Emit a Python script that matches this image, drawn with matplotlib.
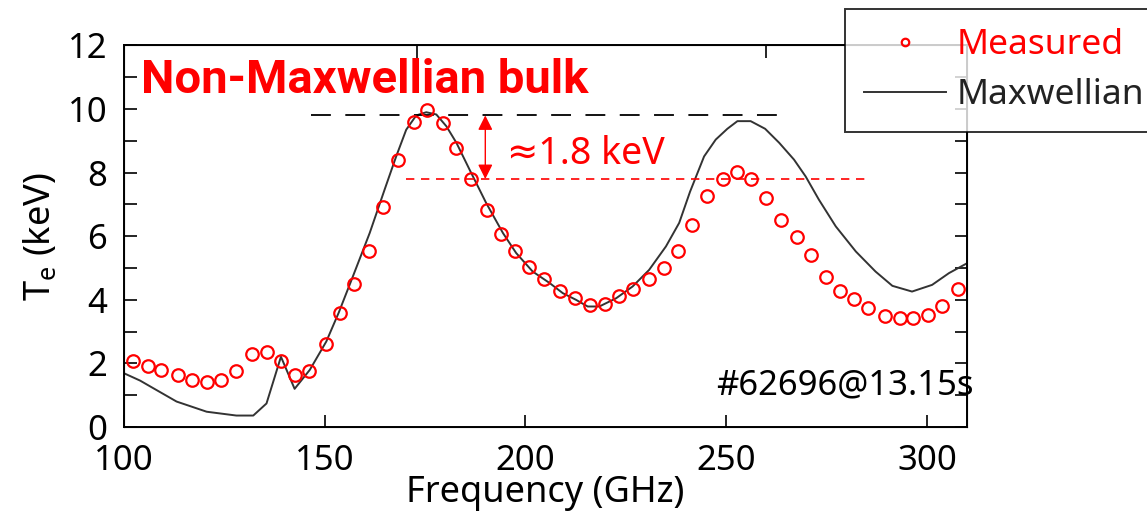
import matplotlib
matplotlib.use("Agg")
import matplotlib.pyplot as plt
from matplotlib.ticker import MultipleLocator

plt.rcParams['font.family'] = ['Noto Sans', 'DejaVu Sans']

# measured ECE temperature (red circles)
meas_f = [102.3, 105.9, 109.3, 113.5, 117.0, 120.6, 124.1, 127.8, 132.0, 135.5,
          139.1, 142.5, 146.1, 150.2, 153.9, 157.2, 161.0, 164.5, 168.2, 172.2,
          175.4, 179.4, 182.8, 186.5, 190.5, 194.0, 197.3, 201.0, 204.6, 208.5,
          212.4, 216.1, 219.7, 223.2, 226.9, 230.8, 234.4, 238.1, 241.5, 245.2,
          249.1, 252.8, 256.2, 260.0, 263.6, 267.7, 271.2, 274.8, 278.3, 281.8,
          285.3, 289.5, 293.2, 296.6, 300.2, 303.8, 307.8]
meas_te = [2.09, 1.93, 1.79, 1.63, 1.47, 1.40, 1.47, 1.77, 2.30, 2.37,
           2.08, 1.62, 1.77, 2.61, 3.59, 4.51, 5.53, 6.91, 8.41, 9.60,
           9.98, 9.57, 8.78, 7.80, 6.83, 6.07, 5.54, 5.02, 4.66, 4.28,
           4.05, 3.84, 3.87, 4.13, 4.34, 4.65, 5.00, 5.55, 6.36, 7.25,
           7.80, 8.01, 7.80, 7.20, 6.52, 5.99, 5.40, 4.71, 4.28, 4.03,
           3.74, 3.50, 3.42, 3.42, 3.51, 3.81, 4.34]

# synthetic Maxwellian spectrum (black line)
max_f = [100.0, 104.0, 107.3, 113.1, 120.6, 128.0, 132.2, 135.5, 139.1, 142.5,
         146.3, 150.4, 153.5, 157.0, 161.2, 164.9, 167.8, 170.3, 172.8, 175.3,
         177.8, 180.3, 182.8, 186.1, 190.2, 194.4, 197.7, 201.8, 206.0, 209.3,
         212.6, 215.5, 218.4, 222.6, 226.7, 230.8, 235.0, 238.3, 241.0, 244.5,
         247.4, 250.3, 252.8, 256.1, 259.7, 263.2, 266.9, 269.8, 273.1, 277.3,
         282.3, 287.2, 291.4, 296.3, 301.3, 305.5, 310.0]
max_te = [1.69, 1.46, 1.22, 0.80, 0.48, 0.36, 0.36, 0.74, 2.21, 1.20,
          1.80, 2.69, 3.60, 4.73, 6.10, 7.46, 8.51, 9.35, 9.80, 9.90,
          9.83, 9.46, 8.94, 8.09, 7.05, 6.10, 5.47, 4.89, 4.53, 4.21,
          4.00, 3.79, 3.79, 4.05, 4.42, 4.94, 5.68, 6.42, 7.40, 8.51,
          9.04, 9.38, 9.62, 9.62, 9.38, 8.94, 8.41, 7.88, 7.15, 6.31,
          5.52, 4.89, 4.44, 4.26, 4.47, 4.84, 5.15]

peak_max = 9.8
peak_meas = 7.8
top_ticks = [173, 260]

fig = plt.figure(figsize=(11.47, 5.11), dpi=100)
ax = fig.add_axes([0.1081, 0.1644, 0.7350, 0.7466])

line, = ax.plot(max_f, max_te, color='#333333', lw=1.4, label='Maxwellian', zorder=2)
pts, = ax.plot(meas_f, meas_te, 'o', mfc='none', mec='#ff0000', ms=9, mew=1.6,
               label='Measured', zorder=3)

ax.hlines(peak_max, 146.5, 266, colors='black', lw=1.3, linestyles=(0, (11, 8)))
ax.hlines(peak_meas, 170.3, 284.7, colors='#ff0000', lw=1.2, linestyles=(0, (5, 4)))
ax.annotate('', xy=(190, peak_meas), xytext=(190, peak_max),
            arrowprops=dict(arrowstyle='<|-|>', color='#ff0000', lw=1.0,
                            mutation_scale=22, shrinkA=0, shrinkB=0))
ax.text(195.5, 8.6, '\u22481.8 keV', color='#ff0000', fontsize=27, va='center')
ax.text(104.3, 10.9, 'Non-Maxwellian bulk', color='#ff0000', fontsize=34,
        fontweight='bold', family=['Roboto', 'DejaVu Sans'], va='center')
ax.text(247.5, 1.32, '#62696@13.15s', color='black', fontsize=25, va='center')

ax.set_xlim(100, 310)
ax.set_ylim(0, 12)
ax.xaxis.set_major_locator(MultipleLocator(50))
ax.yaxis.set_major_locator(MultipleLocator(2))
ax.yaxis.set_minor_locator(MultipleLocator(1))
ax.tick_params(axis='both', which='both', direction='in', length=9, width=1.2,
               labelsize=25, top=False, right=True)
ax.tick_params(axis='y', pad=12)
ax.tick_params(axis='x', pad=12)

top = ax.twiny()
top.set_xlim(100, 310)
top.set_xticks(top_ticks)
top.set_xticklabels([])
top.tick_params(direction='in', length=9, width=1.2)

for s in ax.spines.values():
    s.set_linewidth(1.4)

ax.set_xlabel('Frequency (GHz)', fontsize=26, labelpad=-2)
ax.set_ylabel(r'T$_\mathregular{e}$ (keV)', fontsize=26, labelpad=6)

leg = fig.legend(handles=[pts, line], loc='upper left',
                 bbox_to_anchor=(845 / 1147, 1 - 9 / 511), borderaxespad=0,
                 fontsize=25.5, frameon=True, fancybox=False, edgecolor='black',
                 markerscale=0.6, handlelength=2.3, handletextpad=0.3,
                 borderpad=0.55, labelspacing=0.45)
leg.get_frame().set_linewidth(1.4)
leg.get_texts()[0].set_color('#ff0000')
leg.get_texts()[1].set_color('#222222')

fig.savefig('out.png', dpi=100)
